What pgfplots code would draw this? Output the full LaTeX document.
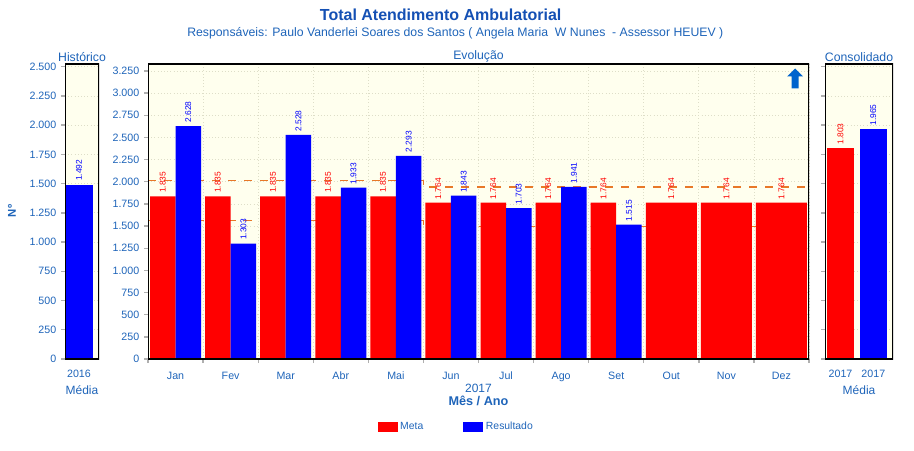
\documentclass[border=0pt]{standalone}
\usepackage{pgfplots}
\pgfplotsset{compat=1.18}
\usepackage{fontspec}
\setmainfont{Liberation Sans}
\definecolor{txtblue}{RGB}{30,100,185}
\definecolor{titblue}{RGB}{20,80,180}
\definecolor{bgc}{RGB}{255,255,238}
\definecolor{gridc}{RGB}{222,222,200}
\definecolor{dashc}{RGB}{232,120,40}
\definecolor{myred}{RGB}{255,0,0}
\definecolor{myblue}{RGB}{0,0,255}
\definecolor{tickc}{RGB}{175,175,175}
\definecolor{arrowc}{RGB}{0,100,205}
\pgfplotsset{
  panel/.style={
    scale only axis, height=221.25pt, ymin=0,
    axis background/.style={fill=bgc},
    axis line style={draw=none},
    ytick={0,250,...,3250},
    ymajorgrids, grid style={dotted, gridc, line width=0.6pt},
    tick align=outside, ytick pos=left, xtick pos=bottom,
    major tick length=3pt, minor tick length=3pt,
    every tick/.style={tickc, line width=1pt},
    tick label style={font=\fontsize{8}{9}\selectfont, text=txtblue},
    title style={font=\fontsize{9.2}{10}\selectfont, text=txtblue, yshift=-8pt},
    xlabel style={font=\fontsize{9}{10}\selectfont, text=txtblue, align=center},
    /pgf/number format/.cd, 1000 sep={.}, assume math mode=true,
  },
  vlab/.style 2 args={nodes near coords, every node near coord/.append style={xshift=#2, rotate=90, anchor=west, font=\fontsize{6.3}{7}\selectfont, text=#1, inner xsep=2.5pt, inner ysep=0pt}},
}
\begin{document}
\begin{tikzpicture}
\path[use as bounding box] (0,0) rectangle (685.5pt,337.5pt);
\node[font=\bfseries\fontsize{12}{14}\selectfont, text=titblue] at (330.5pt,326.25pt) {Total Atendimento Ambulatorial};
\node[font=\fontsize{9.2}{11}\selectfont, text=txtblue] at (341.5pt,312.75pt) {Responsáveis: Paulo Vanderlei Soares dos Santos ( Angela Maria\ \ W Nunes\ \ - Assessor HEUEV )};
\node[rotate=90, font=\bfseries\fontsize{8.5}{9}\selectfont, text=txtblue] at (9pt,179.25pt) {Nº};

% left panel
\begin{axis}[panel, at={(48.75pt,68.25pt)}, anchor=south west, width=25.5pt,
  ymax=2523, xmin=-0.41, xmax=0.59, xtick={0}, xticklabels={2016},
  xtick style={draw=none}, xticklabel style={yshift=-2pt},
  ytick={0,250,...,2500},
  title={Histórico}, xlabel={Média}, xlabel style={yshift=1pt}]
\addplot[ybar, bar width=0.82, bar shift=0, fill=myblue, draw=none, vlab={myblue}{0pt}] coordinates {(0,1492)};
\draw[line width=1.5pt] (rel axis cs:0,0) rectangle (rel axis cs:1,1);
\end{axis}

% main panel
\begin{axis}[panel, at={(111pt,68.25pt)}, anchor=south west, width=495.75pt,
  ymax=3329, xmin=-0.5, xmax=11.5,
  xtick={0,...,11}, xticklabels={Jan,Fev,Mar,Abr,Mai,Jun,Jul,Ago,Set,Out,Nov,Dez},
  major x tick style={draw=none}, xticklabel style={yshift=-3pt},
  minor xtick={-0.5,0.5,...,11.5}, xminorgrids,
  title={Evolução},
  xlabel={2017\\[0pt]{\bfseries\fontsize{9.5}{10}\selectfont Mês / Ano}}, xlabel style={yshift=5pt},
  legend image code/.code={\fill[#1, draw=none] (0pt,-3.4pt) rectangle (15pt,3.4pt);},
  legend style={at={(0.4667,-0.2305)}, anchor=center, draw=none, fill=none,
    legend columns=2, font=\fontsize{7.8}{9}\selectfont, text=txtblue,
    /tikz/every even column/.append style={column sep=28pt},
    cells={anchor=west}},
]
\addplot[const plot, dashc, line width=0.9pt, dash pattern=on 6pt off 6pt, forget plot] coordinates {(-0.5,2018.5) (4.5,1940.4) (11.5,1940.4)};
\addplot[const plot, dashc, line width=0.9pt, dash pattern=on 6pt off 6pt, forget plot] coordinates {(-0.5,1559.75) (4.5,1499.4) (11.5,1499.4)};
\addplot[ybar, bar width=0.463, bar shift=-0.232, fill=myred, draw=none, vlab={myred}{-9.58pt}, forget plot] coordinates {(0,1835) (1,1835) (2,1835) (3,1835) (4,1835) (5,1764) (6,1764) (7,1764) (8,1764)};
\addplot[ybar, bar width=0.463, bar shift=0.232, fill=myblue, draw=none, vlab={myblue}{9.58pt}, forget plot] coordinates {(0,2628) (1,1303) (2,2528) (3,1933) (4,2293) (5,1843) (6,1703) (7,1941) (8,1515)};
\addplot[ybar, bar width=0.926, bar shift=0, fill=myred, draw=none, vlab={myred}{0pt}, forget plot] coordinates {(9,1764) (10,1764) (11,1764)};
\addlegendimage{fill=myred}
\addlegendentry{Meta}
\addlegendimage{fill=myblue}
\addlegendentry{Resultado}
\draw[line width=1.5pt] (rel axis cs:0,0) rectangle (rel axis cs:1,1);
\fill[arrowc] (rel axis cs:0.979,0.985) -- ++(6pt,-6pt) -- ++(-3.4pt,0pt) -- ++(0pt,-9pt) -- ++(-5.2pt,0pt) -- ++(0pt,9pt) -- ++(-3.4pt,0pt) -- cycle;
\end{axis}

% right panel
\begin{axis}[panel, at={(618.75pt,68.25pt)}, anchor=south west, width=51pt,
  ymax=2523, xmin=-0.4726, xmax=1.60, xtick={0,1}, xticklabels={2017,2017},
  xtick style={draw=none}, xticklabel style={yshift=-2pt},
  ytick={0,250,...,2500}, yticklabels={},
  title={Consolidado}, xlabel={Média}, xlabel style={yshift=1pt}]
\addplot[ybar, bar width=0.84, bar shift=0, fill=myred, draw=none, vlab={myred}{0pt}] coordinates {(0,1803)};
\addplot[ybar, bar width=0.84, bar shift=0, fill=myblue, draw=none, vlab={myblue}{0pt}] coordinates {(1,1965)};
\draw[line width=1.5pt] (rel axis cs:0,0) rectangle (rel axis cs:1,1);
\end{axis}
\end{tikzpicture}
\end{document}
